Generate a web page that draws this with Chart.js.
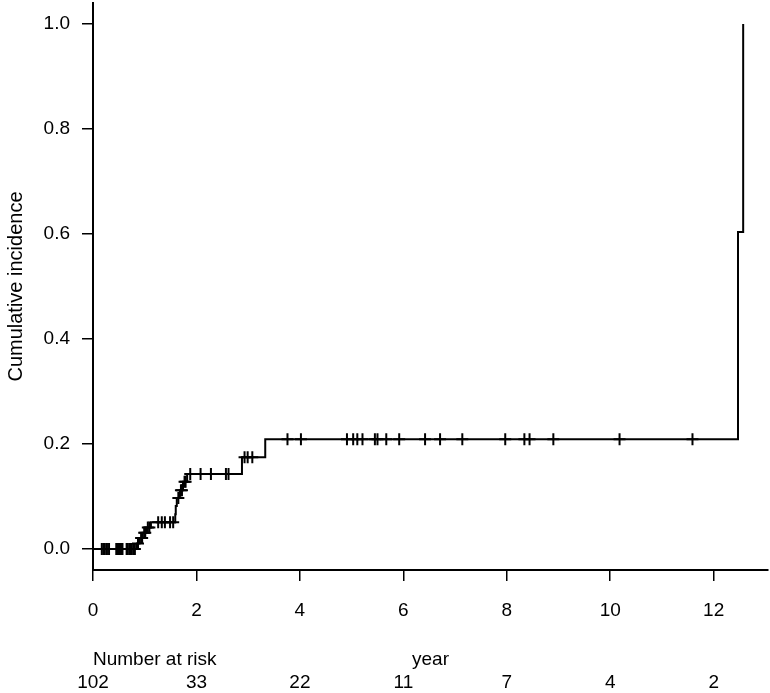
<!DOCTYPE html>
<html lang="en">
<head>
    <meta charset="UTF-8">
    <title>Cumulative incidence</title>
    <script src="https://cdn.jsdelivr.net/npm/chart.js"></script>
    <style>
        body {
            margin: 0;
            padding: 0;
            background-color: white;
        }
        #wrap {
            width: 770px;
            height: 693px;
        }
    </style>
</head>
<body>
    <div id="wrap">
        <canvas id="ciChart" width="770" height="693"></canvas>
    </div>

    <script>
        // axis ticks
        const xTicks = [0, 2, 4, 6, 8, 10, 12];
        const yTicks = [0, 0.2, 0.4, 0.6, 0.8, 1.0];

        // event times (years) and cumulative incidence right after each event
        const eventTimes = [0.85, 0.90, 0.96, 1.03, 1.12, 1.59, 1.60, 1.62, 1.68, 1.74, 1.82, 2.88, 3.33, 12.47, 12.57];
        const eventLevels = [0.0105, 0.021, 0.031, 0.041, 0.051, 0.066, 0.082, 0.097, 0.112, 0.128, 0.143, 0.175, 0.209, 0.604, 1.0];

        // censored observations (years)
        const censorTimes = [
            0.17, 0.20, 0.23, 0.27, 0.31, 0.45, 0.47, 0.49, 0.51, 0.53, 0.55, 0.57,
            0.65, 0.67, 0.70, 0.73, 0.75, 0.78, 0.81,
            0.87, 0.93, 0.95, 0.99, 1.01, 1.06, 1.09,
            1.26, 1.33, 1.39, 1.49, 1.55,
            1.65, 1.70, 1.72, 1.77, 1.79,
            1.88, 2.08, 2.28, 2.57, 2.62,
            2.93, 2.99, 3.08,
            3.76, 4.02, 4.91, 5.03, 5.11, 5.21, 5.45, 5.50, 5.67, 5.92, 6.42, 6.71,
            7.14, 7.97, 8.34, 8.44, 8.90, 10.18, 11.59
        ];

        // number at risk under each x tick
        const riskCounts = [102, 33, 22, 11, 7, 4, 2];

        const FONT = '"Liberation Sans", Arial, sans-serif';

        function levelAt(t) {
            let y = 0;
            for (let i = 0; i < eventTimes.length; i++) {
                if (eventTimes[i] <= t) y = eventLevels[i];
            }
            return y;
        }

        const curve = [{ x: 0, y: 0 }].concat(eventTimes.map((t, i) => ({ x: t, y: eventLevels[i] })));
        const censored = censorTimes.map(t => ({ x: t, y: levelAt(t) }));

        const riskTable = {
            id: 'riskTable',
            afterDraw(chart) {
                const ctx = chart.ctx;
                const x = chart.scales.x;
                ctx.save();
                ctx.fillStyle = '#000';
                ctx.font = '19px ' + FONT;
                ctx.textBaseline = 'middle';
                ctx.textAlign = 'left';
                ctx.fillText('Number at risk', x.getPixelForValue(0), 660);
                ctx.textAlign = 'center';
                riskCounts.forEach((n, i) => {
                    ctx.fillText(String(n), x.getPixelForValue(xTicks[i]), 683);
                });
                ctx.restore();
            }
        };

        const ctx = document.getElementById('ciChart').getContext('2d');

        new Chart(ctx, {
            type: 'line',
            data: {
                datasets: [
                    {
                        label: 'Cumulative incidence',
                        data: curve,
                        borderColor: '#000',
                        borderWidth: 2,
                        stepped: true,
                        pointRadius: 0,
                        fill: false,
                        clip: false
                    },
                    {
                        label: 'Censored',
                        data: censored,
                        showLine: false,
                        pointStyle: 'cross',
                        pointRadius: 6,
                        pointBorderWidth: 2,
                        borderColor: '#000',
                        backgroundColor: '#000',
                        clip: false
                    }
                ]
            },
            options: {
                responsive: false,
                devicePixelRatio: 1,
                animation: false,
                layout: { autoPadding: false, padding: { left: 0, right: 2, top: 3, bottom: 0 } },
                plugins: {
                    legend: { display: false },
                    tooltip: { enabled: false }
                },
                scales: {
                    x: {
                        type: 'linear',
                        min: 0,
                        max: 13.05,
                        afterBuildTicks: s => { s.ticks = xTicks.map(v => ({ value: v })); },
                        afterFit: s => {
                            s.height = 123;
                            s.paddingLeft = 0;
                            s.paddingRight = 0;
                        },
                        ticks: {
                            color: '#000',
                            font: { size: 19, family: FONT },
                            padding: 18,
                            maxRotation: 0,
                            callback: v => String(v)
                        },
                        grid: {
                            drawOnChartArea: false,
                            drawTicks: true,
                            tickLength: 11,
                            color: '#000',
                            lineWidth: 1.5
                        },
                        border: { display: true, color: '#000', width: 2 },
                        title: {
                            display: true,
                            text: 'year',
                            color: '#000',
                            font: { size: 19, family: FONT },
                            padding: { top: 0, bottom: 22 }
                        }
                    },
                    y: {
                        type: 'linear',
                        min: -0.04,
                        max: 1.04,
                        afterBuildTicks: s => { s.ticks = yTicks.map(v => ({ value: v })); },
                        afterFit: s => {
                            s.width = 93;
                            s.paddingTop = 0;
                            s.paddingBottom = 0;
                        },
                        ticks: {
                            color: '#000',
                            font: { size: 19, family: FONT },
                            padding: 12,
                            callback: v => Number(v).toFixed(1)
                        },
                        grid: {
                            drawOnChartArea: false,
                            drawTicks: true,
                            tickLength: 11,
                            color: '#000',
                            lineWidth: 1.5
                        },
                        border: { display: true, color: '#000', width: 2 },
                        title: {
                            display: true,
                            text: 'Cumulative incidence',
                            color: '#000',
                            font: { size: 20, family: FONT },
                            padding: { top: 4, bottom: 0 }
                        }
                    }
                }
            },
            plugins: [riskTable]
        });
    </script>
</body>
</html>
